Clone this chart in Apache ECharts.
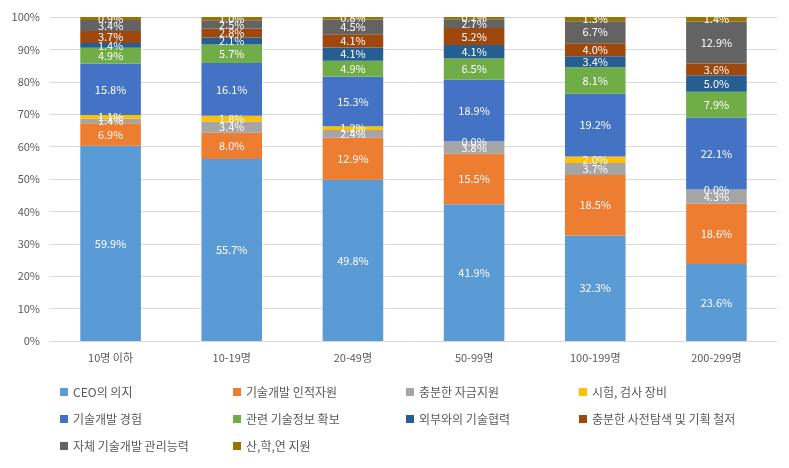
<!DOCTYPE html>
<html><head><meta charset="utf-8">
<script src="https://cdn.jsdelivr.net/npm/echarts@6/dist/echarts.min.js"></script>
<style>html,body{margin:0;padding:0;background:#fff}#c{width:789px;height:468px}</style>
</head><body><div id="c"></div>
<script>
const categories = ['10명 이하','10-19명','20-49명','50-99명','100-199명','200-299명'];
const seriesNames = ['CEO의 의지','기술개발 인적자원','충분한 자금지원','시험, 검사 장비','기술개발 경험','관련 기술정보 확보','외부와의 기술협력','충분한 사전탐색 및 기획 철저','자체 기술개발 관리능력','산,학,연 지원'];
const ceo      = [59.9, 55.7, 49.8, 41.9, 32.3, 23.6];
const human    = [6.9, 8.0, 12.9, 15.5, 18.5, 18.6];
const fund     = [1.4, 3.4, 2.4, 3.8, 3.7, 4.3];
const equip    = [1.1, 1.8, 1.2, 0.0, 2.0, 0.0];
const exper    = [15.8, 16.1, 15.3, 18.9, 19.2, 22.1];
const info     = [4.9, 5.7, 4.9, 6.5, 8.1, 7.9];
const coop     = [1.4, 2.1, 4.1, 4.1, 3.4, 5.0];
const plan     = [3.7, 2.8, 4.1, 5.2, 4.0, 3.6];
const manage   = [3.4, 2.5, 4.5, 2.7, 6.7, 12.9];
const indus    = [0.9, 1.0, 0.8, 0.7, 1.3, 1.4];
const yTicks = ['0%','10%','20%','30%','40%','50%','60%','70%','80%','90%','100%'];
const colors = ['#5B9BD5','#ED7D31','#A5A5A5','#FFC000','#4472C4','#70AD47','#255E91','#9E480E','#636363','#997300'];

const all = [ceo, human, fund, equip, exper, info, coop, plan, manage, indus];
const totals = categories.map((c, i) => all.reduce((s, a) => s + a[i], 0));
const FONT = '"Malgun Gothic","Noto Sans CJK KR",sans-serif';

const series = all.map((arr, k) => ({
  name: seriesNames[k],
  type: 'bar',
  stack: 'total',
  barWidth: '50%',
  itemStyle: { color: colors[k] },
  label: {
    show: true, position: 'inside', color: '#fff', fontSize: 11, fontFamily: FONT,
    formatter: p => arr[p.dataIndex].toFixed(1) + '%'
  },
  data: arr.map((v, i) => v / totals[i] * 100)
}));

const chart = echarts.init(document.getElementById('c'), null, { renderer: 'canvas' });
chart.setOption({
  animation: false,
  color: colors,
  grid: { left: 50, right: 12, top: 17, bottom: 127, containLabel: false },
  xAxis: {
    type: 'category', data: categories,
    axisLine: { show: true, lineStyle: { color: '#D9D9D9' } },
    axisTick: { show: false },
    axisLabel: { color: '#595959', fontSize: 11, fontFamily: FONT, margin: 11 }
  },
  yAxis: {
    type: 'value', min: 0, max: 100, interval: 10,
    axisLine: { show: false }, axisTick: { show: false },
    splitLine: { lineStyle: { color: '#D9D9D9' } },
    axisLabel: { color: '#595959', fontSize: 11, fontFamily: FONT, margin: 10,
      formatter: v => yTicks[Math.round(v / 10)] }
  },
  legend: {
    left: 55, top: 380, width: 720,
    itemWidth: 8, itemHeight: 8, itemGap: 13, icon: 'rect',
    textStyle: { color: '#595959', fontSize: 12, fontFamily: FONT, width: 147, lineHeight: 14 },
    data: seriesNames
  },
  series
});
</script></body></html>
